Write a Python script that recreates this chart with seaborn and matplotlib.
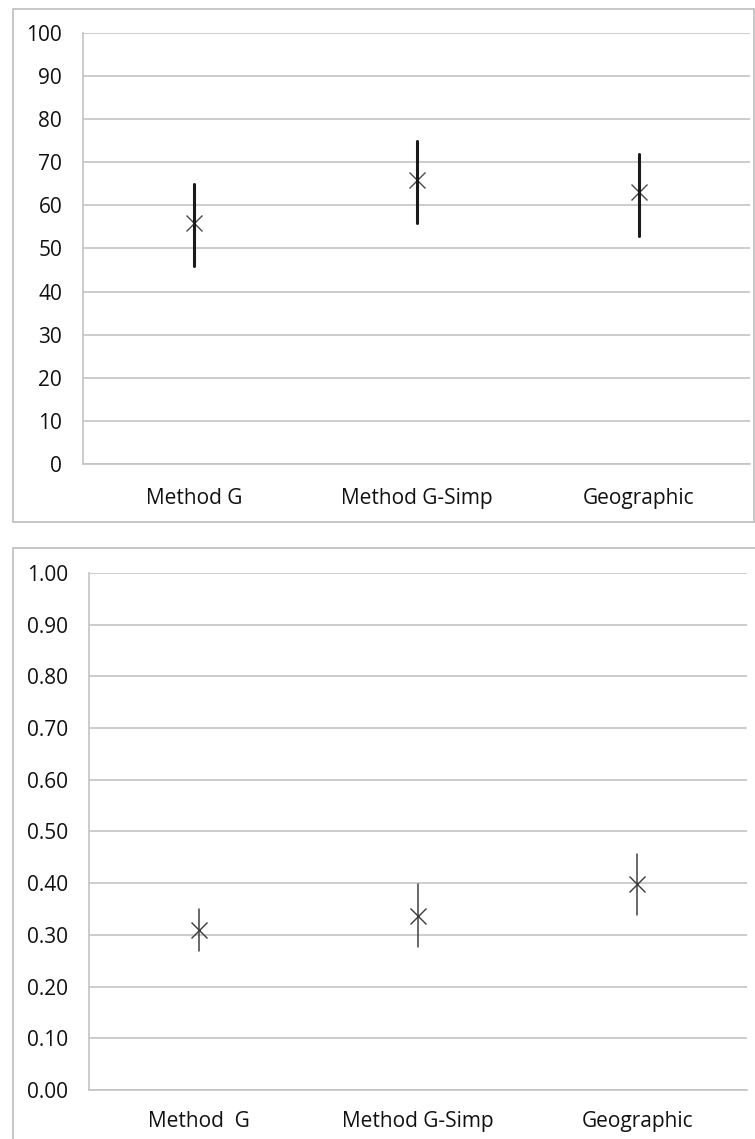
import matplotlib
matplotlib.use("Agg")
import matplotlib.pyplot as plt
import matplotlib.patches as mpatches
from matplotlib.ticker import FixedLocator, MultipleLocator, FormatStrFormatter
import seaborn as sns
import pandas as pd

# ---- data ----
categories_top = ["Method G", "Method G-Simp", "Geographic"]
center_top = [56, 66, 63]
lower_top = [46, 56, 53]
upper_top = [65, 75, 72]

categories_bot = ["Method  G", "Method G-Simp", "Geographic"]
center_bot = [0.309, 0.337, 0.398]
lower_bot = [0.268, 0.277, 0.338]
upper_bot = [0.350, 0.398, 0.456]

sns.set_style("white")
plt.rcParams["font.family"] = ["Open Sans", "DejaVu Sans"]

W, H = 755, 1139
fig = plt.figure(figsize=(W / 100, H / 100), dpi=100)

GRID = "#c3c3c3"
TXT = "#111111"


def long_df(cats, lo, mid, hi):
    rows = []
    for c, a, b, d in zip(cats, lo, mid, hi):
        for v in (a, b, d):
            rows.append({"cat": c, "val": v})
    return pd.DataFrame(rows)


def style_axes(ax, ymax, step, fmt, fs):
    ax.set_xlim(-0.5, 2.5)
    ax.set_ylim(0, ymax)
    ax.yaxis.set_major_locator(MultipleLocator(step))
    ax.yaxis.set_major_formatter(FormatStrFormatter(fmt))
    ax.grid(axis="y", color=GRID, linewidth=1.2, zorder=0)
    ax.set_axisbelow(True)
    for s in ("top", "right"):
        ax.spines[s].set_visible(False)
    for s in ("left", "bottom"):
        ax.spines[s].set_color(GRID)
        ax.spines[s].set_linewidth(1.2)
    ax.xaxis.set_minor_locator(FixedLocator([-0.5, 0.5, 1.5, 2.5]))
    ax.tick_params(axis="x", which="major", length=0, labelsize=fs, colors=TXT)
    ax.tick_params(axis="x", which="minor", length=5, color=GRID, width=1.2)
    ax.tick_params(axis="y", length=5, color=GRID, width=1.2, pad=10,
                   labelsize=fs, labelcolor=TXT)
    ax.set_xlabel("")
    ax.set_ylabel("")


# ---- top panel ----
fig.add_artist(mpatches.Rectangle((13 / W, 1 - 522 / H), (754 - 13) / W, (522 - 9) / H,
                                  transform=fig.transFigure, fill=False,
                                  edgecolor="#bdbdbd", linewidth=1.2))
ax1 = fig.add_axes([83 / W, 1 - 464 / H, 667 / W, 431 / H])
df1 = long_df(categories_top, lower_top, center_top, upper_top)
sns.pointplot(data=df1, x="cat", y="val", order=categories_top, estimator="median",
              errorbar=("pi", 100), linestyle="none", marker="x", markersize=12,
              markeredgewidth=1.0, color="#4a4a4a",
              err_kws={"linewidth": 2.2, "color": "#1a1a1a"}, ax=ax1)
style_axes(ax1, 100, 10, "%d", 15)
ax1.tick_params(axis="x", which="major", pad=17)

# ---- bottom panel ----
fig.add_artist(mpatches.Rectangle((13 / W, -0.01), (W + 10 - 13) / W, (1 - 548 / H) + 0.01,
                                  transform=fig.transFigure, fill=False,
                                  edgecolor="#bdbdbd", linewidth=1.2))
ax2 = fig.add_axes([89 / W, 1 - 1090 / H, 658 / W, 517 / H])
df2 = long_df(categories_bot, lower_bot, center_bot, upper_bot)
sns.pointplot(data=df2, x="cat", y="val", order=categories_bot, estimator="median",
              errorbar=("pi", 100), linestyle="none", marker="x", markersize=12,
              markeredgewidth=1.0, color="#3a3a3a",
              err_kws={"linewidth": 1.1, "color": "#404040"}, ax=ax2)
style_axes(ax2, 1.0, 0.1, "%.2f", 15)
ax2.tick_params(axis="x", which="major", pad=15)

fig.savefig("out.png", dpi=100)
